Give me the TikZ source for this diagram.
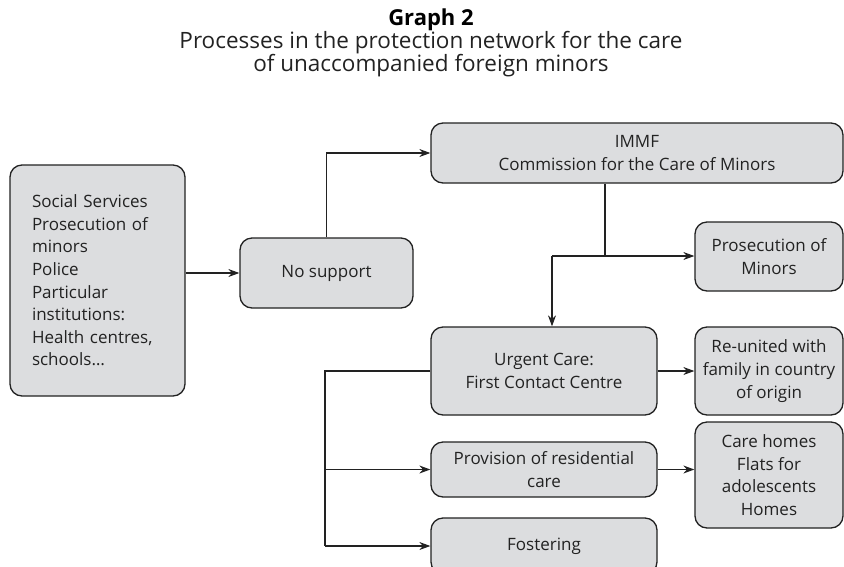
\documentclass[tikz,border=0pt]{standalone}
\usepackage{fontspec}
\setmainfont{Open Sans}
\usetikzlibrary{arrows.meta}
\definecolor{boxfill}{HTML}{DCDDDF}
\definecolor{ink}{HTML}{222222}
\begin{document}
\begin{tikzpicture}[x=1pt,y=-1pt,
  box/.style={draw=ink,line width=1.3pt,fill=boxfill,rounded corners=12pt,
    align=center,inner sep=0pt,text=ink,
    font=\fontsize{17}{22.6}\selectfont},
  conn/.style={draw=ink,line width=1.2pt},
  arr/.style={conn,-{Stealth[length=11pt,width=8pt]}}]
\useasboundingbox (0,0) rectangle (844,566);
\clip (0,0) rectangle (844,566);
\node[font=\fontsize{22}{26}\selectfont\bfseries,text=black] (title) at (431,20) {Graph 2};
\node[font=\fontsize{22.5}{23}\selectfont,align=center,text=ink] (sub) at (431,54.5)
  {Processes in the protection network for the care\\of unaccompanied foreign minors};
\node[box,align=left,text width=131pt,inner xsep=22pt,minimum height=231pt] (src) at (97.5,280.5)
  {Social Services\\Prosecution of\\minors\\Police\\Particular\\institutions:\\Health centres,\\schools\ldots};
\node[box,minimum width=173pt,minimum height=70pt] (nosup) at (326.5,273) {No support};
\node[box,minimum width=412pt,minimum height=60pt] (immf) at (637,153)
  {IMMF\\Commission for the Care of Minors};
\node[box,minimum width=148pt,minimum height=69pt] (pros) at (769,256.5)
  {Prosecution of\\Minors};
\node[box,minimum width=226pt,minimum height=88pt] (urg) at (544,371)
  {Urgent Care:\\First Contact Centre};
\node[box,minimum width=148pt,minimum height=88pt] (reun) at (769,371)
  {Re-united with\\family in country\\of origin};
\node[box,minimum width=226pt,minimum height=55pt] (prov) at (544,469.5)
  {Provision of residential\\care};
\node[box,minimum width=148pt,minimum height=106pt] (care) at (769,475)
  {Care homes\\Flats for\\adolescents\\Homes};
\node[box,minimum width=226pt,minimum height=56pt] (fost) at (544,546) {Fostering};
\coordinate (j1) at (605,256);
\coordinate (j2) at (552,256);
\coordinate (k) at (325,0);
\draw[arr] (src.east |- nosup.west) -- (nosup.west);
\draw[arr] (nosup.north) |- (immf.west);
\draw[conn] (immf.south -| j1) -- (j1);
\draw[arr] (j2) -- (pros.west |- j2);
\draw[arr] (j2) -- (j2 |- urg.north);
\draw[arr] (urg.east) -- (reun.west);
\draw[arr] (prov.east) -- (prov.east -| care.west);
\draw[conn] (urg.west) -- (k |- urg.west) -- (k |- fost.west);
\draw[arr] (k |- prov.west) -- (prov.west);
\draw[arr] (k |- fost.west) -- (fost.west);
\end{tikzpicture}
\end{document}
